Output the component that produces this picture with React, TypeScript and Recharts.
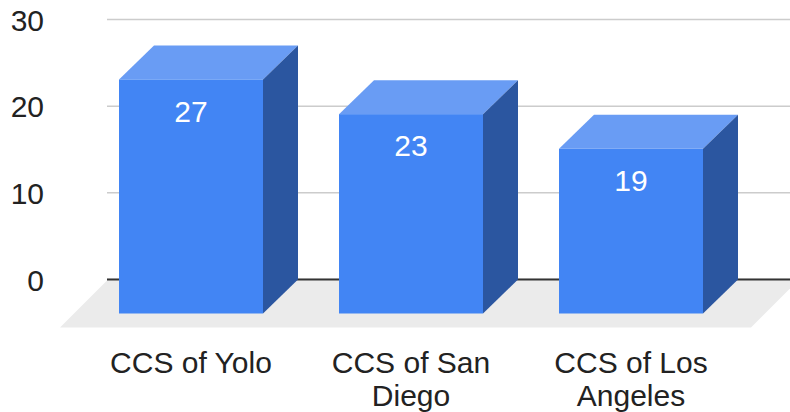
import { BarChart, Bar, XAxis, YAxis, CartesianGrid, LabelList } from "recharts";

const categories = ["CCS of Yolo", "CCS of San Diego", "CCS of Los Angeles"];
const counts = [27, 23, 19];
const yTicks = [0, 10, 20, 30];

const data = categories.map((name, i) => ({ name, count: counts[i] }));

const W = 790;
const H = 412;
const PLOT_LEFT = 107;
const PLOT_TOP = 19.5;
const PLOT_BOTTOM = 279.5;
// oblique depth of the boxes and of the floor
const DX = 35;
const DY = 34;
const FLOOR = 47;
const FONT = "Arial, 'Liberation Sans', sans-serif";
const FONT_SIZE = 30;

// greedy word wrap, roughly what fits under one box
function wrap(label: string, maxChars = 11) {
  const lines: string[] = [];
  let cur = "";
  for (const word of label.split(" ")) {
    const next = cur ? cur + " " + word : word;
    if (next.length > maxChars && cur) {
      lines.push(cur);
      cur = word;
    } else {
      cur = next;
    }
  }
  if (cur) lines.push(cur);
  return lines;
}

function Cube(props: any) {
  const { x, y, width, height, index } = props;
  const base = y + height;
  const fx = x - DX;
  const fy = y + DY;
  return (
    <g>
      {index === 0 && (
        <>
          <polygon
            points={`${PLOT_LEFT},${base + 1} ${W + 8},${base + 1} ${W + 8 - FLOOR},${base + 1 + FLOOR} ${PLOT_LEFT - FLOOR},${base + 1 + FLOOR}`}
            fill="#ebebeb"
          />
          <line x1={PLOT_LEFT} x2={W} y1={base} y2={base} stroke="#333" strokeWidth={2} />
        </>
      )}
      <polygon
        points={`${fx},${fy} ${fx + width},${fy} ${x + width},${y} ${x},${y}`}
        fill="#699cf4"
      />
      <polygon
        points={`${fx + width},${fy} ${x + width},${y} ${x + width},${base} ${fx + width},${base + DY}`}
        fill="#2b56a0"
      />
      <rect x={fx} y={fy} width={width} height={height} fill="#4285f4" />
    </g>
  );
}

function CubeLabel(props: any) {
  const box = props.viewBox ?? props;
  const { x, y, width } = box;
  return (
    <text
      x={x - DX + width / 2}
      y={y + DY + 42}
      textAnchor="middle"
      fill="#ffffff"
      fontSize={FONT_SIZE}
      fontFamily={FONT}
    >
      {props.value}
    </text>
  );
}

function CategoryTick(props: any) {
  const { x, payload } = props;
  const lines = wrap(String(payload.value));
  return (
    <text
      x={x - DX}
      y={372.5}
      textAnchor="middle"
      fill="#222"
      fontSize={FONT_SIZE}
      fontFamily={FONT}
    >
      {lines.map((line, i) => (
        <tspan key={i} x={x - DX} dy={i === 0 ? 0 : 33.5}>
          {line}
        </tspan>
      ))}
    </text>
  );
}

function ValueTick(props: any) {
  const { y, payload } = props;
  return (
    <text x={44} y={y + 11} textAnchor="end" fill="#222" fontSize={FONT_SIZE} fontFamily={FONT}>
      {payload.value}
    </text>
  );
}

export default function App() {
  return (
    <div style={{ position: "absolute", left: 0, top: 0, width: W, height: H, background: "#fff" }}>
      <BarChart
        width={W}
        height={H}
        data={data}
        margin={{ top: PLOT_TOP, right: 0, bottom: 0, left: 0 }}
      >
        <CartesianGrid vertical={false} stroke="#cccccc" strokeWidth={1.5} />
        <XAxis
          dataKey="name"
          height={H - PLOT_BOTTOM}
          padding={{ left: 9, right: 14 }}
          axisLine={false}
          tickLine={false}
          tickSize={0}
          tickMargin={0}
          interval={0}
          tick={<CategoryTick />}
        />
        <YAxis
          width={PLOT_LEFT}
          domain={[0, 30]}
          ticks={yTicks}
          axisLine={false}
          tickLine={false}
          tick={<ValueTick />}
        />
        <Bar dataKey="count" barSize={144} shape={<Cube />} isAnimationActive={false}>
          <LabelList dataKey="count" content={<CubeLabel />} />
        </Bar>
      </BarChart>
    </div>
  );
}
